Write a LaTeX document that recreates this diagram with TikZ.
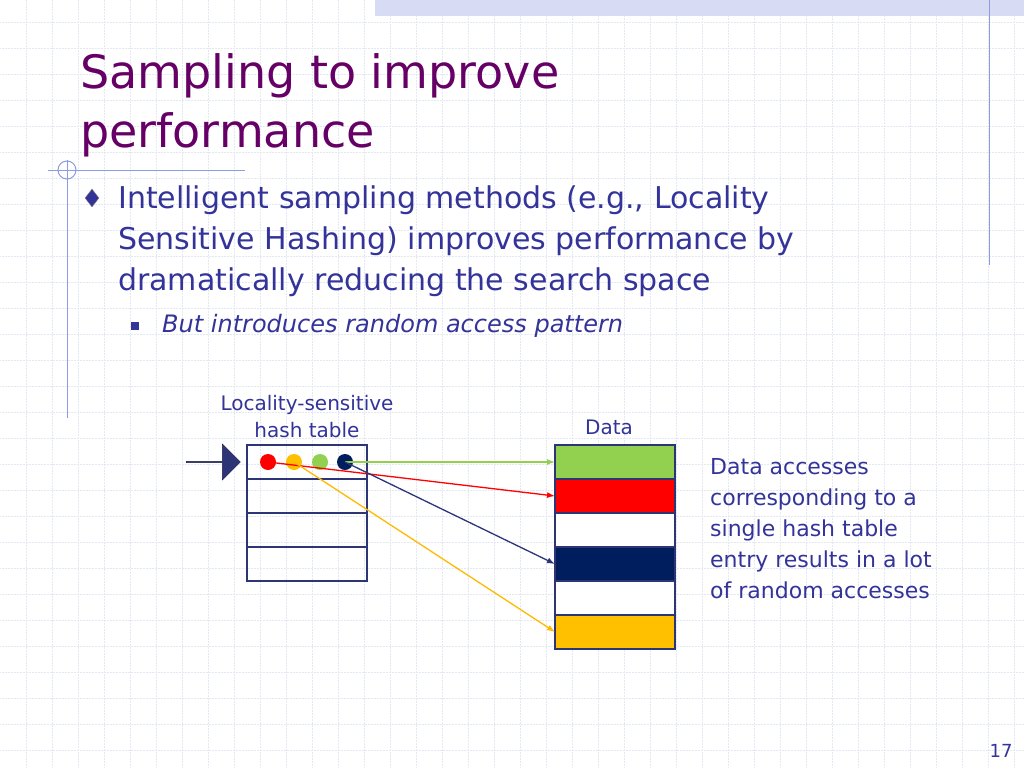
\documentclass[tikz,border=0pt]{standalone}
\usepackage{fontspec}
\setmainfont{DejaVu Sans}
\usetikzlibrary{arrows.meta,shapes.arrows,shapes.geometric}
\definecolor{ttl}{HTML}{660066}
\definecolor{body}{HTML}{333399}
\definecolor{navy}{HTML}{001E5E}
\definecolor{grn}{HTML}{92D050}
\definecolor{yel}{HTML}{FFC000}
\definecolor{frame}{HTML}{2E3577}
\definecolor{gridc}{HTML}{E4E8F2}
\definecolor{deco}{HTML}{8C9CE0}
\begin{document}
\begin{tikzpicture}[x=1pt,y=-1pt,
  cell/.style={draw=frame,line width=2pt,minimum width=120pt,minimum height=34pt,inner sep=0pt,outer sep=0pt},
  dot/.style={circle,inner sep=0pt,minimum size=16pt},
  lnk/.style={line width=1.3pt,-{Latex[length=8pt,width=6pt]}},
  txt/.style={inner sep=0pt,anchor=base west,text=body}]
\useasboundingbox (0,0) rectangle (1024,768);
\fill[white] (0,0) rectangle (1024,768);
% grid
\foreach \x in {26,52,...,1024} \draw[gridc,line width=0.5pt,densely dotted] (\x,0) -- (\x,768);
\foreach \y in {22,48,...,768} \draw[gridc,line width=0.5pt,densely dotted] (0,\y) -- (1024,\y);
% decorations
\fill[deco!35] (375,0) rectangle (1024,16);
\draw[deco,line width=1pt] (989,0) -- (989,265);
\draw[deco,line width=1pt] (67,160) -- (67,418);
\draw[deco,line width=1pt] (48,170) -- (245,170);
\draw[deco,line width=1pt] (67,170) circle (9);
% title
\node[txt,text=ttl,font=\fontsize{46}{52}\selectfont] (t1) at (80,88) {Sampling to improve};
\node[txt,text=ttl,font=\fontsize{46}{52}\selectfont] (t2) at (80,147) {performance};
% bullets
\node[diamond,fill=body,draw=gray,inner sep=0pt,minimum width=14pt,minimum height=18pt] (b1) at (92,198) {};
\node[txt,font=\fontsize{30}{36}\selectfont] (l1) at (118,208) {Intelligent sampling methods (e.g., Locality};
\node[txt,font=\fontsize{30}{36}\selectfont] (l2) at (118,249) {Sensitive Hashing) improves performance by};
\node[txt,font=\fontsize{30}{36}\selectfont] (l3) at (118,290) {dramatically reducing the search space};
\fill[body] (131,322) rectangle (139,330);
\node[txt,font=\fontsize{24}{28}\selectfont\itshape] (l4) at (162,332) {But introduces random access pattern};
% labels
\node[text=body,font=\fontsize{20}{27}\selectfont,align=center] (hl) at (307,417) {Locality-sensitive\\hash table};
\node[text=body,font=\fontsize{20}{24}\selectfont] (dl) at (609,427) {Data};
% hash table
\node[cell,anchor=north west] (h1) at (247,445) {};
\node[cell,anchor=north] (h2) at (h1.south) {};
\node[cell,anchor=north] (h3) at (h2.south) {};
\node[cell,anchor=north] (h4) at (h3.south) {};
% data
\node[cell,anchor=north west,fill=grn] (d1) at (555,445) {};
\node[cell,anchor=north,fill=red] (d2) at (d1.south) {};
\node[cell,anchor=north,fill=white] (d3) at (d2.south) {};
\node[cell,anchor=north,fill=navy] (d4) at (d3.south) {};
\node[cell,anchor=north,fill=white] (d5) at (d4.south) {};
\node[cell,anchor=north,fill=yel] (d6) at (d5.south) {};
% dots
\node[dot,fill=red] (c1) at (268,462) {};
\node[dot,fill=yel] (c2) at (294,462) {};
\node[dot,fill=grn] (c3) at (320,462) {};
\node[dot,fill=navy] (c4) at (345,462) {};
% arrows
\draw[lnk,grn] (c4.center) -- (d1.west);
\draw[lnk,red] (c1.center) -- (d2.west);
\draw[lnk,frame] (c4.center) -- (d4.west);
\draw[lnk,yel!90!orange] (c2.center) -- (d6.west);
% block arrow
\node[single arrow,fill=frame,draw=frame!60!black,minimum height=54pt,minimum width=36pt,single arrow head extend=5pt,inner sep=0pt] (ba) at (213,462) {};
% right text
\node[txt,font=\fontsize{22}{31}\selectfont,align=left,anchor=north west] (rt) at (710,458) {Data accesses\\corresponding to a\\single hash table\\entry results in a lot\\of random accesses};
\node[text=body,font=\fontsize{18}{20}\selectfont] (pg) at (1001,751) {17};
\end{tikzpicture}
\end{document}
